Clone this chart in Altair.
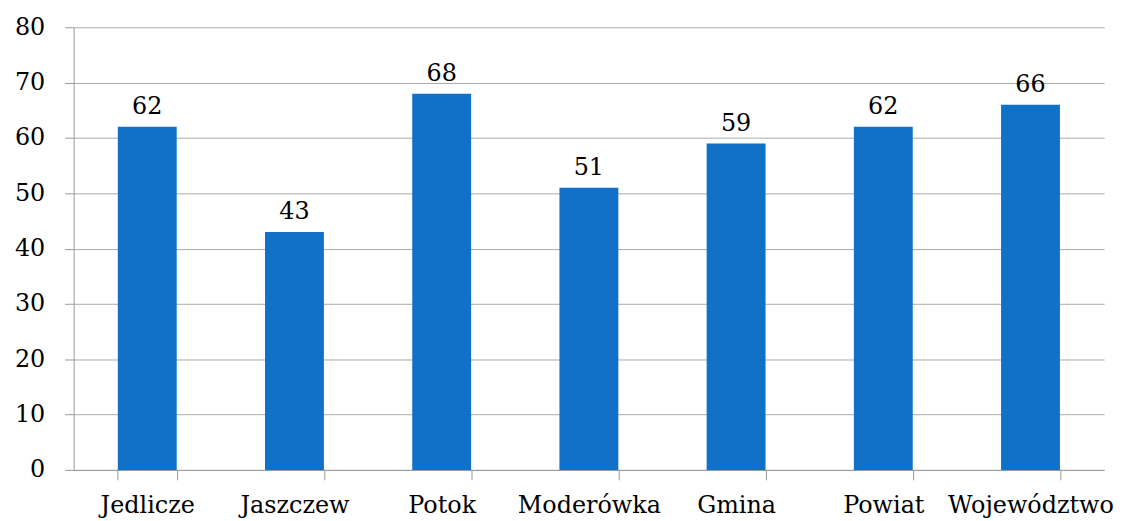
import altair as alt
import pandas as pd

categories = ["Jedlicze", "Jaszczew", "Potok", "Moderówka", "Gmina", "Powiat", "Województwo"]
values = [62, 43, 68, 51, 59, 62, 66]

df = pd.DataFrame({"cat": categories, "val": values})

FONT = "DejaVu Serif"
FS = 24

x = alt.X("cat:N", sort=categories, title=None,
          scale=alt.Scale(paddingInner=0.6, paddingOuter=0.3),
          axis=alt.Axis(labelAngle=0, labelFontSize=FS, labelFont=FONT, labelColor="black",
                        tickBand="extent", tickSize=10, tickColor="#999999", domainColor="#999999",
                        labelPadding=14, labelOverlap=False, grid=False))
y = alt.Y("val:Q", title=None,
          scale=alt.Scale(domain=[0, 80], nice=False),
          axis=alt.Axis(values=list(range(0, 81, 10)), labelFontSize=FS, labelFont=FONT,
                        labelColor="black", tickSize=9, tickColor="#999999", domainColor="#999999",
                        gridColor="#aaaaaa", labelPadding=20))

base = alt.Chart(df)
bars = base.mark_bar(color="#1170C8").encode(x=x, y=y)
text = base.mark_text(baseline="bottom", dy=-8, fontSize=FS, font=FONT, color="black").encode(
    x=alt.X("cat:N", sort=categories), y="val:Q", text="val:Q")

chart = (bars + text).properties(
    width=1036, height=445,
    autosize=alt.AutoSizeParams(type="none"),
    padding={"left": 66, "top": 18, "right": 20, "bottom": 50},
).configure_view(stroke=None)

chart.save("out.html", embed_options={"renderer": "svg", "actions": False})
